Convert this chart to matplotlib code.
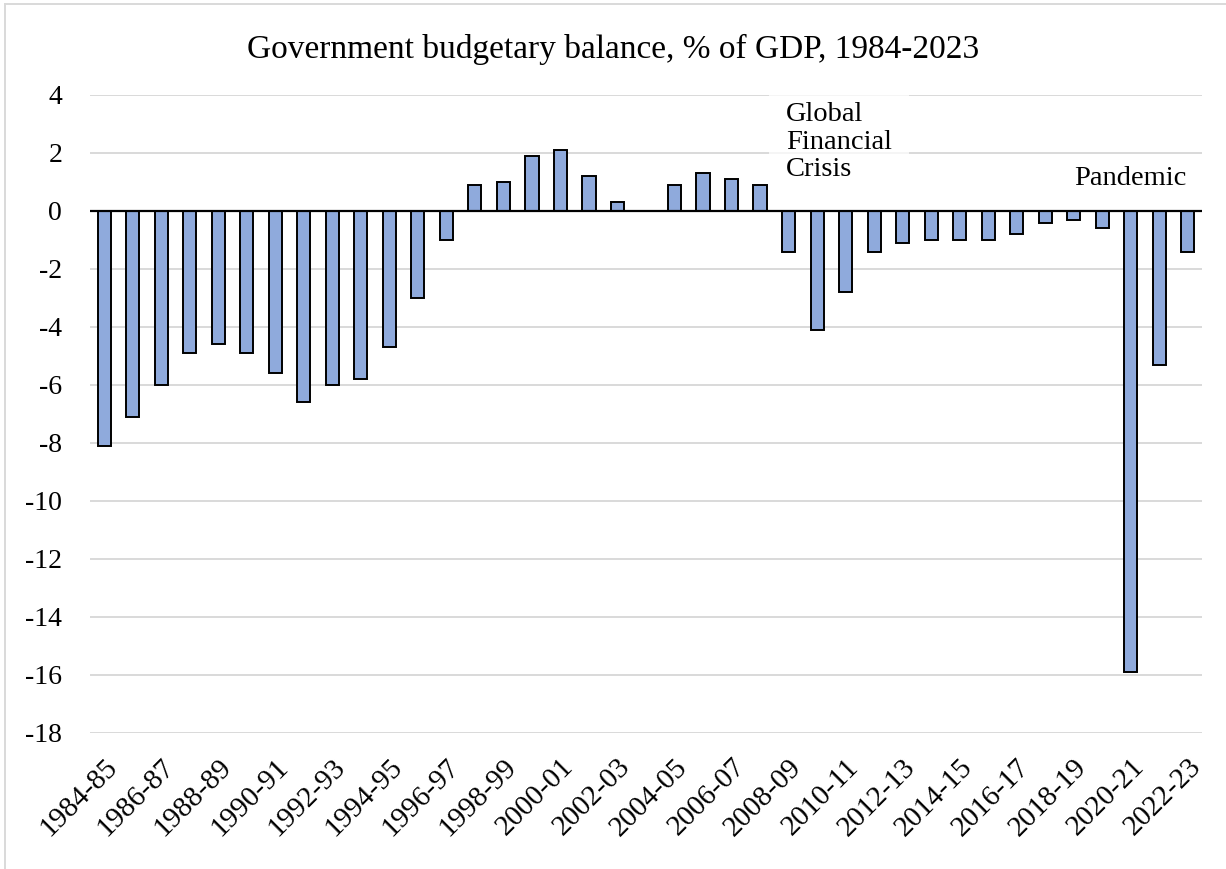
import numpy as np
import matplotlib
matplotlib.use("Agg")
import matplotlib.pyplot as plt
from matplotlib.lines import Line2D

# Dados: saldo orçamentário do governo, % do PIB
anos = ["1984-85", "1985-86", "1986-87", "1987-88", "1988-89", "1989-90",
        "1990-91", "1991-92", "1992-93", "1993-94", "1994-95", "1995-96",
        "1996-97", "1997-98", "1998-99", "1999-00", "2000-01", "2001-02",
        "2002-03", "2003-04", "2004-05", "2005-06", "2006-07", "2007-08",
        "2008-09", "2009-10", "2010-11", "2011-12", "2012-13", "2013-14",
        "2014-15", "2015-16", "2016-17", "2017-18", "2018-19", "2019-20",
        "2020-21", "2021-22", "2022-23"]
saldo = [-8.1, -7.1, -6.0, -4.9, -4.6, -4.9, -5.6, -6.6, -6.0, -5.8, -4.7,
         -3.0, -1.0, 0.9, 1.0, 1.9, 2.1, 1.2, 0.3, 0.0, 0.9, 1.3, 1.1, 0.9,
         -1.4, -4.1, -2.8, -1.4, -1.1, -1.0, -1.0, -1.0, -0.8, -0.4, -0.3,
         -0.6, -15.9, -5.3, -1.4]
y_ticks = [4, 2, 0, -2, -4, -6, -8, -10, -12, -14, -16, -18]

titulo = "Government budgetary balance, % of GDP, 1984-2023"
nota_gfc = "Global\nFinancial\nCrisis"
nota_pandemia = "Pandemic"

FONTE = "Liberation Serif"
plt.rcParams['font.family'] = [FONTE, 'DejaVu Serif']

fig = plt.figure(figsize=(12.26, 8.69), dpi=100)
ax = fig.add_axes([90 / 1226, 1 - 733 / 869, 1112 / 1226, 638 / 869])

x = np.arange(len(anos))
ax.bar(x, saldo, width=0.46, color="#8faadc", edgecolor="black",
       linewidth=1.4, zorder=3)

ax.set_xlim(-0.5, len(anos) - 0.5)
ax.set_ylim(-18, 4)
ax.set_yticks(y_ticks)
ax.set_yticklabels([str(v) for v in y_ticks], fontsize=20)
ax.yaxis.grid(True, color="#d9d9d9", linewidth=1.4, zorder=0)
ax.axhline(0, color="black", linewidth=1.6, zorder=4)

ax.set_xticks(x[::2])
ax.set_xticklabels(anos[::2], fontsize=21, rotation=45, ha="right",
                   va="top", rotation_mode="anchor")
ax.tick_params(axis="both", length=0)
ax.tick_params(axis="x", pad=15)
ax.tick_params(axis="y", pad=20)

for lado in ax.spines.values():
    lado.set_visible(False)

# Anotações
ax.text(24 - 0.1, 3.75, nota_gfc, fontsize=20.5, ha="left", va="top",
        linespacing=1.13, zorder=5,
        bbox=dict(facecolor="white", edgecolor="none", alpha=0.75,
                  boxstyle="square,pad=0.6"))
ax.text(36, 0.7, nota_pandemia, fontsize=20.5, ha="center", va="bottom",
        zorder=5)

fig.text(613 / 1226, 1 - 49 / 869, titulo, fontsize=24, ha="center",
         va="center")

# Moldura do gráfico (só esquerda e topo aparecem)
fig.add_artist(Line2D([5 / 1226, 5 / 1226], [0, 1 - 4 / 869],
                      transform=fig.transFigure, color="#d9d9d9", linewidth=1.4))
fig.add_artist(Line2D([5 / 1226, 1], [1 - 4 / 869, 1 - 4 / 869],
                      transform=fig.transFigure, color="#d9d9d9", linewidth=1.4))

fig.savefig("out.png", dpi=100)
